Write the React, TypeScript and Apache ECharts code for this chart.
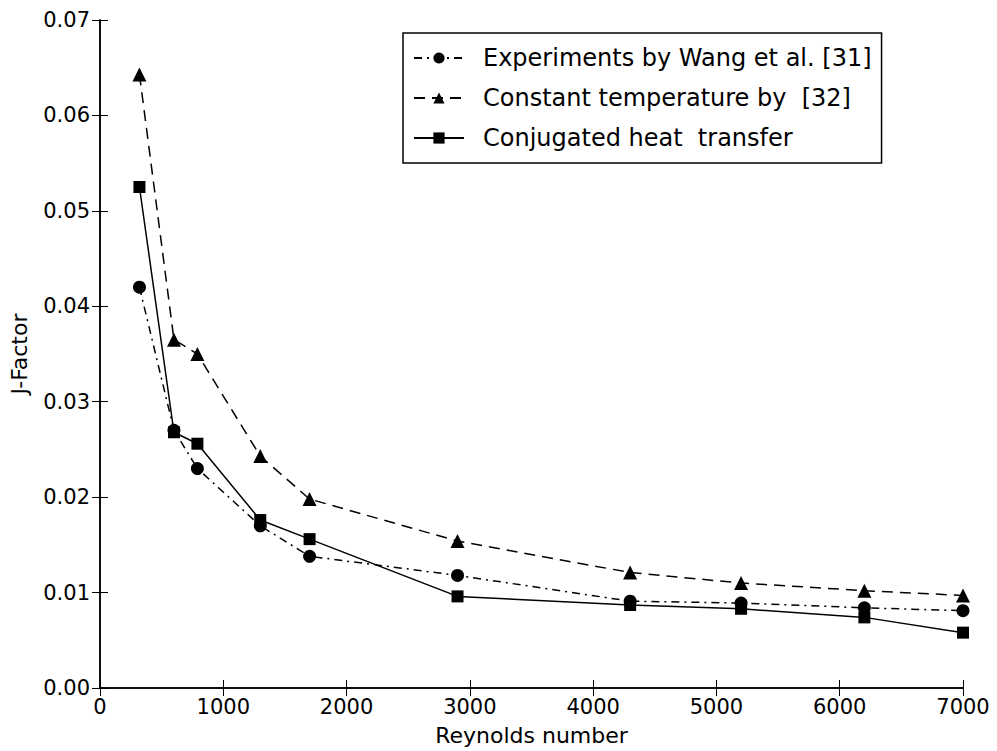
import React, { useEffect, useRef } from "react";
import * as echarts from "echarts";

const reynolds = [320, 600, 790, 1300, 1700, 2900, 4300, 5200, 6200, 7000];
const experimentsWang = [0.042, 0.027, 0.023, 0.017, 0.0138, 0.0118, 0.0091, 0.0089, 0.0084, 0.0081];
const constantTemp = [0.0643, 0.0365, 0.035, 0.0243, 0.0198, 0.0154, 0.0121, 0.011, 0.0102, 0.0097];
const conjugated = [0.0525, 0.0268, 0.0256, 0.0176, 0.0156, 0.0096, 0.0087, 0.0083, 0.0074, 0.0058];
const seriesNames = [
  "Experiments by Wang et al. [31]",
  "Constant temperature by  [32]",
  "Conjugated heat  transfer",
];

const FONT = "DejaVu Sans";

function pairs(ys: number[]) {
  return reynolds.map((x, i) => [x, ys[i]]);
}

export default function App() {
  const ref = useRef<HTMLDivElement>(null);
  useEffect(() => {
    if (!ref.current) return;
    const chart = echarts.init(ref.current, undefined, { renderer: "svg" });
    const axisLine = { show: true, lineStyle: { color: "#000", width: 1.5 } };
    const tick = { show: true, inside: true, length: 8, lineStyle: { color: "#000", width: 1 } };
    chart.setOption({
      animation: false,
      backgroundColor: "#fff",
      grid: { left: 98, top: 20, right: 34, bottom: 63, show: false },
      legend: {
        left: 403,
        top: 33,
        orient: "vertical",
        borderColor: "#000",
        borderWidth: 1.5,
        borderRadius: 0,
        padding: [11, 10, 11, 10],
        itemWidth: 50,
        itemHeight: 14,
        itemGap: 12,
        textStyle: {
          fontFamily: FONT,
          fontSize: 24,
          color: "#000",
          lineHeight: 28,
          padding: [0, 0, 0, 14],
        },
        data: seriesNames,
      },
      xAxis: [
        {
          type: "value",
          min: 0,
          max: 7000,
          interval: 1000,
          name: "Reynolds number",
          nameLocation: "middle",
          nameGap: 36,
          nameTextStyle: { fontFamily: FONT, fontSize: 22, color: "#000" },
          axisLine,
          axisTick: tick,
          splitLine: { show: false },
          axisLabel: {
            fontFamily: FONT,
            fontSize: 21,
            color: "#000",
            margin: 8,
            formatter: (v: number) => String(v),
          },
        },
        {
          type: "value",
          position: "top",
          min: 0,
          max: 7000,
          interval: 1000,
          axisLine,
          axisTick: tick,
          splitLine: { show: false },
          axisLabel: { show: false },
        },
      ],
      yAxis: [
        {
          type: "value",
          min: 0,
          max: 0.07,
          interval: 0.01,
          name: "J-Factor",
          nameLocation: "middle",
          nameGap: 70,
          nameTextStyle: { fontFamily: FONT, fontSize: 22, color: "#000" },
          axisLine,
          axisTick: tick,
          splitLine: { show: false },
          axisLabel: {
            fontFamily: FONT,
            fontSize: 21,
            color: "#000",
            margin: 10,
            formatter: (v: number) => v.toFixed(2),
          },
        },
        {
          type: "value",
          position: "right",
          min: 0,
          max: 0.07,
          interval: 0.01,
          axisLine,
          axisTick: tick,
          splitLine: { show: false },
          axisLabel: { show: false },
        },
      ],
      series: [
        {
          name: seriesNames[0],
          type: "line",
          data: pairs(experimentsWang),
          symbol: "circle",
          symbolSize: 13,
          itemStyle: { color: "#000" },
          lineStyle: { color: "#000", width: 1.5, type: [8, 5, 2, 5] },
        },
        {
          name: seriesNames[1],
          type: "line",
          data: pairs(constantTemp),
          symbol: "triangle",
          symbolSize: 14,
          itemStyle: { color: "#000" },
          lineStyle: { color: "#000", width: 1.5, type: [11, 7] },
        },
        {
          name: seriesNames[2],
          type: "line",
          data: pairs(conjugated),
          symbol: "rect",
          symbolSize: 12,
          itemStyle: { color: "#000" },
          lineStyle: { color: "#000", width: 1.5, type: "solid" },
        },
      ],
    });
    return () => chart.dispose();
  }, []);
  return <div ref={ref} style={{ width: 997, height: 751, position: "absolute", left: 0, top: 0 }} />;
}
